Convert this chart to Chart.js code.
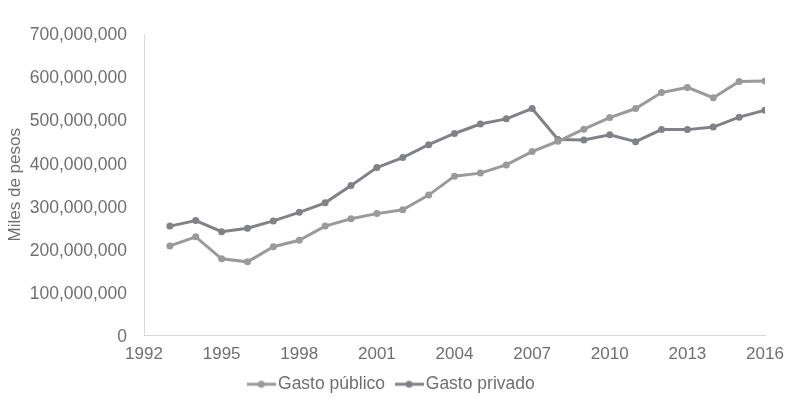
<!DOCTYPE html>
<html>
<head>
<meta charset="utf-8">
<script src="https://cdn.jsdelivr.net/npm/chart.js@4.4.1/dist/chart.umd.min.js"></script>
<style>
  html, body { margin: 0; padding: 0; background: #ffffff; }
  #wrap { position: relative; width: 787px; height: 398px; }
</style>
</head>
<body>
<div id="wrap"><canvas id="chart" width="787" height="398"></canvas></div>
<script>
// Gasto en miles de pesos, 1993-2016
const years = [1993, 1994, 1995, 1996, 1997, 1998, 1999, 2000, 2001, 2002, 2003, 2004,
               2005, 2006, 2007, 2008, 2009, 2010, 2011, 2012, 2013, 2014, 2015, 2016];

const gastoPublico = [208000000, 229000000, 178000000, 171000000, 206000000, 221000000,
                      254000000, 271000000, 283000000, 292000000, 326000000, 370000000,
                      377000000, 396000000, 427000000, 451000000, 479000000, 506000000,
                      527000000, 564000000, 576000000, 552000000, 590000000, 591000000];

const gastoPrivado = [254000000, 267000000, 241000000, 249000000, 266000000, 286000000,
                      308000000, 348000000, 390000000, 413000000, 443000000, 469000000,
                      491000000, 503000000, 527000000, 455000000, 454000000, 466000000,
                      450000000, 478000000, 478000000, 484000000, 507000000, 523000000];

const seriesNames = ['Gasto público', 'Gasto privado'];
const yAxisTitle = 'Miles de pesos';

const colPublico = '#9a9a9a';
const colPrivado = '#818285';
const textColor = '#6f6f6f';
const fontFamily = '"Liberation Sans", Arial, sans-serif';

// small line-with-dot swatch for the legend
function swatch(color) {
  const c = document.createElement('canvas');
  c.width = 29; c.height = 10;
  const g = c.getContext('2d');
  g.strokeStyle = color; g.lineWidth = 3;
  g.beginPath(); g.moveTo(0, 5); g.lineTo(29, 5); g.stroke();
  g.fillStyle = color;
  g.beginPath(); g.arc(14.5, 5, 3.5, 0, Math.PI * 2); g.fill();
  return c;
}

function toPoints(vals) {
  return years.map((y, i) => ({ x: y, y: vals[i] }));
}

const marks = [swatch(colPublico), swatch(colPrivado)];

new Chart(document.getElementById('chart'), {
  type: 'line',
  data: {
    datasets: [
      {
        label: seriesNames[0],
        data: toPoints(gastoPublico),
        borderColor: colPublico,
        backgroundColor: colPublico,
        borderWidth: 3,
        pointRadius: 3.5,
        pointHoverRadius: 3.5,
        pointBorderWidth: 0,
        pointStyle: 'circle',
        tension: 0
      },
      {
        label: seriesNames[1],
        data: toPoints(gastoPrivado),
        borderColor: colPrivado,
        backgroundColor: colPrivado,
        borderWidth: 3,
        pointRadius: 3.5,
        pointHoverRadius: 3.5,
        pointBorderWidth: 0,
        pointStyle: 'circle',
        tension: 0
      }
    ]
  },
  options: {
    responsive: false,
    animation: false,
    layout: { padding: { top: 34, left: 1, right: 0, bottom: -5 } },
    plugins: {
      tooltip: { enabled: false },
      legend: {
        position: 'bottom',
        labels: {
          usePointStyle: true,
          pointStyleWidth: 16,
          padding: 16,
          color: textColor,
          font: { family: fontFamily, size: 17.5 },
          generateLabels(chart) {
            return chart.data.datasets.map((ds, i) => ({
              text: ds.label,
              fillStyle: ds.borderColor,
              strokeStyle: ds.borderColor,
              fontColor: textColor,
              pointStyle: marks[i],
              datasetIndex: i,
              hidden: false,
              lineWidth: 0
            }));
          }
        }
      }
    },
    scales: {
      x: {
        type: 'linear',
        min: 1992,
        max: 2016,
        grid: { display: false, drawTicks: false },
        border: { display: true, color: '#d9d9d9', width: 1 },
        afterFit(scale) { scale.height = 24; scale.paddingRight = 22; },
        ticks: {
          stepSize: 3,
          padding: 9,
          color: textColor,
          font: { family: fontFamily, size: 17 },
          maxRotation: 0,
          callback: v => String(v)
        }
      },
      y: {
        min: 0,
        max: 700000000,
        grid: { display: false, drawTicks: false },
        border: { display: true, color: '#d9d9d9', width: 1 },
        afterFit(scale) { scale.width = 143; },
        title: {
          display: true,
          text: yAxisTitle,
          color: textColor,
          font: { family: fontFamily, size: 17 },
          padding: { top: 4, bottom: 4 }
        },
        ticks: {
          stepSize: 100000000,
          padding: 17,
          labelOffset: 1.5,
          color: textColor,
          font: { family: fontFamily, size: 17.5 },
          callback: v => v.toLocaleString('en-US')
        }
      }
    }
  }
});
</script>
</body>
</html>
